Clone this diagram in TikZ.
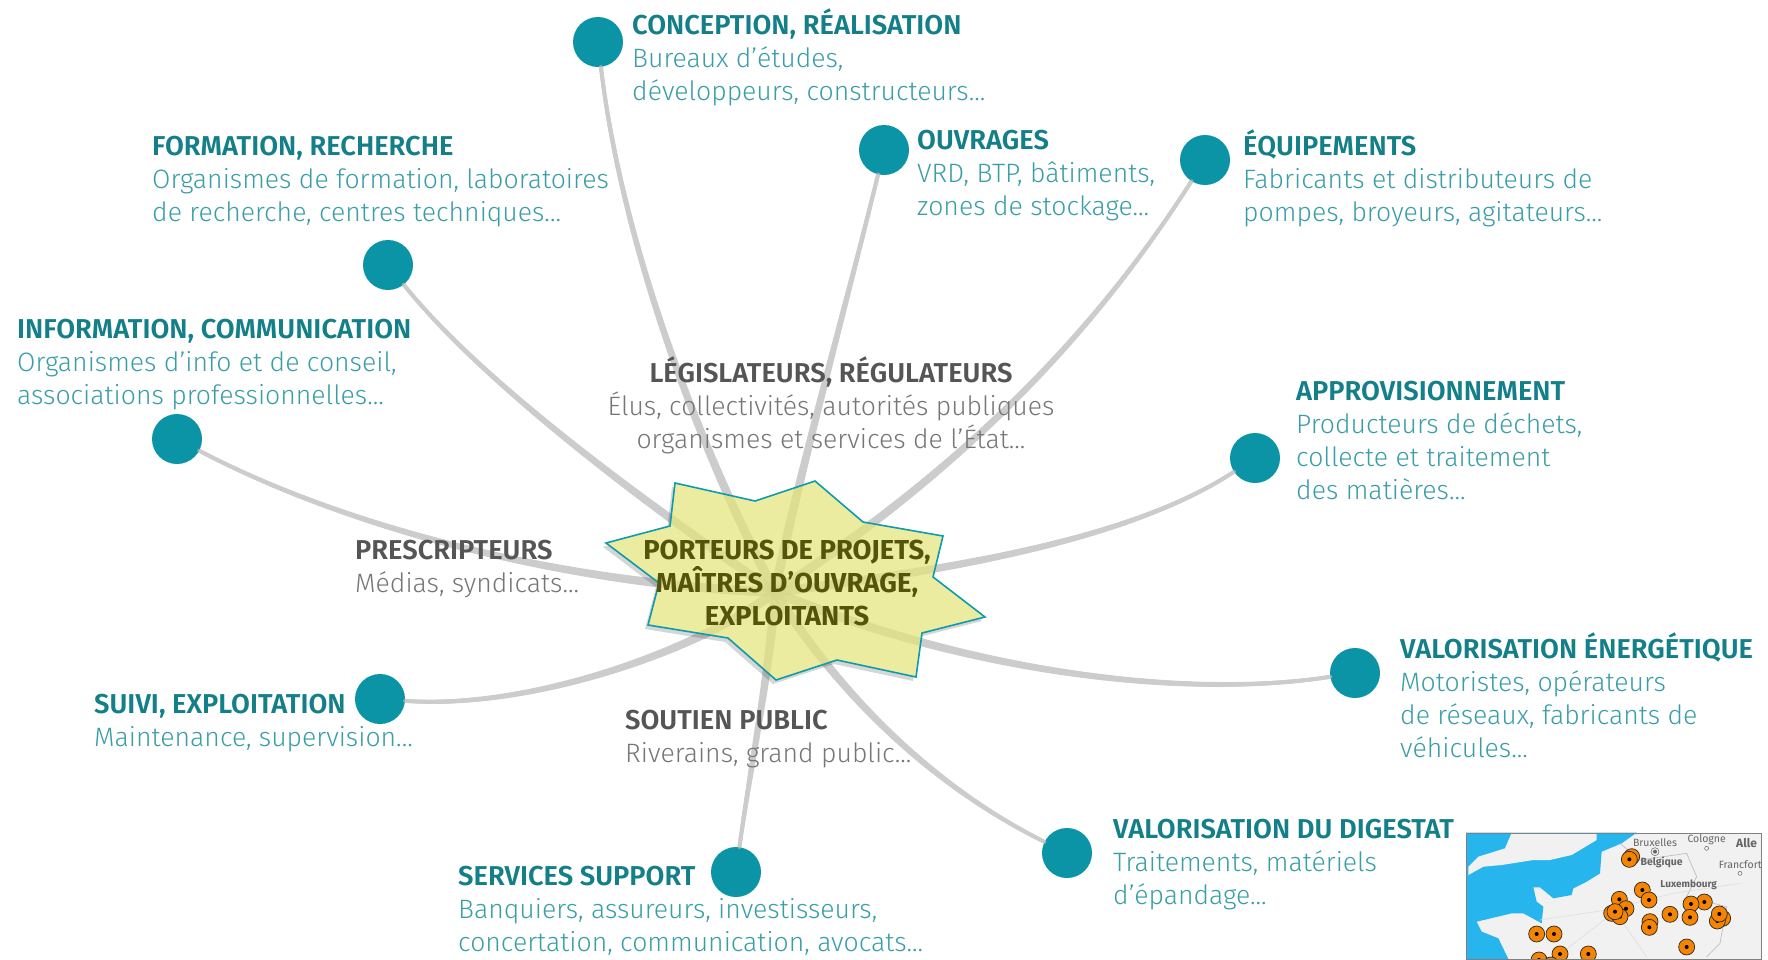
\documentclass[tikz,border=0pt]{standalone}
\usepackage{fontspec}
\setmainfont{Fira Sans}
\newfontfamily\lightfont{Fira Sans Light}
\usetikzlibrary{decorations.markings}
\definecolor{tealdark}{HTML}{137F88}
\definecolor{tealtext}{HTML}{3A9EA6}
\definecolor{tealdot}{HTML}{0B93A6}
\definecolor{greytitle}{HTML}{555555}
\definecolor{greytext}{HTML}{767676}
\definecolor{linkgrey}{HTML}{B8B8B8}
\definecolor{starfill}{HTML}{E4E47C}
\definecolor{staredge}{HTML}{0F9BAE}
\definecolor{hubtext}{HTML}{54540C}
\definecolor{seablue}{HTML}{27B5EE}
\definecolor{landgrey}{HTML}{F1F1F1}
\definecolor{pinorange}{HTML}{F58400}
\newcommand{\ttl}[1]{{\fontsize{27.3}{33}\selectfont\bfseries #1}}
\newcommand{\starpath}{(675,483) -- (755,501) -- (815,481) -- (863,522) -- (943,536) -- (933,577) -- (985,617) -- (922,633) -- (916,677) -- (837,660) -- (776,680) -- (728,638) -- (648,625) -- (659,583) -- (606,543) -- (670,526) -- cycle}
\begin{document}
\begin{tikzpicture}[x=1pt,y=-1pt]
\useasboundingbox (0,0) rectangle (1768,959);

\coordinate (V1) at (598,42);
\coordinate (V2) at (884,150);
\coordinate (V3) at (1205,160);
\coordinate (V4) at (388,265);
\coordinate (V5) at (177,439);
\coordinate (V6) at (1255,458);
\coordinate (V7) at (1355,673);
\coordinate (V8) at (1067,853);
\coordinate (V9) at (736,872);
\coordinate (V10) at (380,699);

\tikzset{EdgeStyle/.style = {
 line width = 4pt,
 linkgrey,
 postaction = {decorate, decoration = {markings,
  mark = between positions 0 and 1 step 2pt with {
   \pgfmathsetmacro{\edgerad}{2+3*\pgfkeysvalueof{/pgf/decoration/mark info/distance from start}/\pgfdecoratedpathlength}
   \fill[linkgrey] (0,0) circle (\edgerad pt); } } } } }
\tikzset{EdgeGroup/.style = {transparency group, opacity = 0.72} }
\tikzset{VertexStyle/.style = {
 shape = circle,
 fill = tealdot,
 inner sep = 0pt,
 minimum size = 50pt} }
\tikzset{LabelStyle/.style = {
 anchor = north west,
 align = left,
 inner sep = 0pt,
 text = tealtext,
 font = \lightfont\fontsize{26.6}{33}\selectfont} }
\tikzset{MidLabelStyle/.style = {
 LabelStyle,
 text = greytext} }
\tikzset{StarStyle/.style = {
 draw = staredge,
 line width = 1.6pt,
 fill = starfill,
 fill opacity = 0.72,
 line join = miter} }
\tikzset{MapTextStyle/.style = {
 inner sep = 0pt,
 text = black!60,
 font = \fontsize{10.5}{11}\selectfont} }

\node[VertexStyle] (N1) at (V1) {};
\node[VertexStyle] (N2) at (V2) {};
\node[VertexStyle] (N3) at (V3) {};
\node[VertexStyle] (N4) at (V4) {};
\node[VertexStyle] (N5) at (V5) {};
\node[VertexStyle] (N6) at (V6) {};
\node[VertexStyle] (N7) at (V7) {};
\node[VertexStyle] (N8) at (V8) {};
\node[VertexStyle] (N9) at (V9) {};
\node[VertexStyle] (N10) at (V10) {};
\coordinate (H) at (775,592);

\begin{scope}[EdgeGroup]
\draw[EdgeStyle] (N1) .. controls (620,230) and (690,430) .. (H);
\end{scope}
\begin{scope}[EdgeGroup]
\draw[EdgeStyle] (N2) .. controls (850,290) and (795,490) .. (H);
\end{scope}
\begin{scope}[EdgeGroup]
\draw[EdgeStyle] (N3) .. controls (1090,340) and (960,470) .. (H);
\end{scope}
\begin{scope}[EdgeGroup]
\draw[EdgeStyle] (N4) .. controls (480,380) and (640,500) .. (H);
\end{scope}
\begin{scope}[EdgeGroup]
\draw[EdgeStyle] (N5) .. controls (350,530) and (570,585) .. (H);
\end{scope}
\begin{scope}[EdgeGroup]
\draw[EdgeStyle] (N6) .. controls (1130,540) and (950,570) .. (H);
\end{scope}
\begin{scope}[EdgeGroup]
\draw[EdgeStyle] (N7) .. controls (1180,700) and (960,670) .. (H);
\end{scope}
\begin{scope}[EdgeGroup]
\draw[EdgeStyle] (N8) .. controls (920,780) and (830,680) .. (H);
\end{scope}
\begin{scope}[EdgeGroup]
\draw[EdgeStyle] (N9) .. controls (750,770) and (770,670) .. (H);
\end{scope}
\begin{scope}[EdgeGroup]
\draw[EdgeStyle] (N10) .. controls (530,710) and (700,650) .. (H);
\end{scope}

\begin{scope}[even odd rule]
\clip (0,0) rectangle (1768,959) \starpath;
\fill[black, opacity=0.16] [shift={(-3,4)}] \starpath;
\end{scope}
\filldraw[StarStyle] \starpath;
\node[align=center, inner sep=0pt, text=hubtext, font=\fontsize{27.4}{33}\selectfont\bfseries] (F0) at (787,583) {PORTEURS DE PROJETS,\\MAÎTRES D’OUVRAGE,\\EXPLOITANTS};

\node[LabelStyle] (F1) at (632,8) {\ttl{\textcolor{tealdark}{CONCEPTION, RÉALISATION}}\\Bureaux d’études,\\développeurs, constructeurs...};
\node[LabelStyle] (F2) at (152,136) {\ttl{\textcolor{tealdark}{FORMATION, RECHERCHE}}\\Organismes de formation, laboratoires\\de recherche, centres techniques...};
\node[LabelStyle] (F3) at (917,130) {\ttl{\textcolor{tealdark}{OUVRAGES}}\\VRD, BTP, bâtiments,\\zones de stockage...};
\node[LabelStyle] (F4) at (1243,129) {\ttl{\textcolor{tealdark}{ÉQUIPEMENTS}}\\Fabricants et distributeurs de\\pompes, broyeurs, agitateurs...};
\node[LabelStyle] (F5) at (17,319) {\ttl{\textcolor{tealdark}{INFORMATION, COMMUNICATION}}\\Organismes d’info et de conseil,\\associations professionnelles...};
\node[LabelStyle] (F6) at (1296,381) {\ttl{\textcolor{tealdark}{APPROVISIONNEMENT}}\\Producteurs de déchets,\\collecte et traitement\\des matières...};
\node[LabelStyle] (F7) at (94,694) {\ttl{\textcolor{tealdark}{SUIVI, EXPLOITATION}}\\Maintenance, supervision...};
\node[LabelStyle] (F8) at (1400,632) {\ttl{\textcolor{tealdark}{VALORISATION ÉNERGÉTIQUE}}\\Motoristes, opérateurs\\de réseaux, fabricants de\\véhicules...};
\node[LabelStyle] (F9) at (1113,819) {\ttl{\textcolor{tealdark}{VALORISATION DU DIGESTAT}}\\Traitements, matériels\\d’épandage...};
\node[LabelStyle] (F10) at (458,866) {\ttl{\textcolor{tealdark}{SERVICES SUPPORT}}\\Banquiers, assureurs, investisseurs,\\concertation, communication, avocats...};
\node[MidLabelStyle, align=center, anchor=north] (F11) at (831,356) {\ttl{\textcolor{greytitle}{LÉGISLATEURS, RÉGULATEURS}}\\Élus, collectivités, autorités publiques\\organismes et services de l’État...};
\node[MidLabelStyle] (F12) at (355,540) {\ttl{\textcolor{greytitle}{PRESCRIPTEURS}}\\Médias, syndicats...};
\node[MidLabelStyle] (F13) at (625,710) {\ttl{\textcolor{greytitle}{SOUTIEN PUBLIC}}\\Riverains, grand public...};

\begin{scope}[shift={(1440,810)}, x=0.3333pt, y=-0.3333pt]
\clip (78,68) rectangle (964,447);
\fill[landgrey] (78,68) rectangle (964,447);
\fill[seablue] (78,68) -- (590,68) -- (545,100) -- (485,125) -- (480,190) -- (440,215) -- (400,235) -- (395,255) -- (340,265) -- (300,232) -- (280,232) -- (290,275) -- (310,290) -- (305,340) -- (250,310) -- (215,310) -- (110,335) -- (125,365) -- (175,385) -- (205,447) -- (78,447) -- cycle;
\fill[landgrey] (85,195) -- (85,170) -- (115,140) -- (195,115) -- (215,68) -- (470,68) -- (470,90) -- (395,135) -- (330,150) -- (280,150) -- (185,165) -- (130,170) -- cycle;
\draw[black!25, line width=0.7pt] (540,100) -- (600,150) -- (740,130) -- (770,200) -- (740,260) -- (860,290) -- (840,400) -- (800,440);
\draw[black!12, line width=0.7pt] (300,330) -- (500,300) -- (700,250) -- (900,220);
\draw[black!12, line width=0.7pt] (525,305) -- (620,440);
\draw[black!12, line width=0.7pt] (525,305) -- (350,440);
\foreach \px/\py in {575/140,568/148,607/240,627/270,538/268,558/296,515/310,540/320,525/305,690/313,793/276,753/282,750/322,848/325,832/333,838/312,630/335,628/352,290/372,342/372,360/432,297/450,333/465,445/432,740/411} {
 \fill[pinorange, draw=black!85, line width=0.7pt] (\px,\py) circle (8pt);
 \fill[black] (\px,\py) circle (2pt);
}
\node[MapTextStyle] (M1) at (645,98) {Bruxelles};
\node[MapTextStyle] (M2) at (800,90) {Cologne};
\node[MapTextStyle, font=\fontsize{12}{12}\selectfont\bfseries, anchor=west] (M3) at (888,100) {Alle};
\node[MapTextStyle, font=\fontsize{10.5}{11}\selectfont\bfseries] (M4) at (665,158) {Belgique};
\node[MapTextStyle, anchor=west] (M5) at (836,165) {Francfort};
\node[MapTextStyle, font=\fontsize{10}{11}\selectfont\bfseries] (M6) at (746,225) {Luxembourg};
\fill[black!60] (645,125) circle (2pt);
\draw[black!60, line width=0.5pt] (645,125) circle (4pt);
\draw[black!60, line width=0.5pt] (800,115) circle (2pt);
\draw[black!60, line width=0.5pt] (900,190) circle (2pt);
\end{scope}
\draw[black!50, line width=1pt] (1466,833) rectangle (1761,959);
\end{tikzpicture}
\end{document}
